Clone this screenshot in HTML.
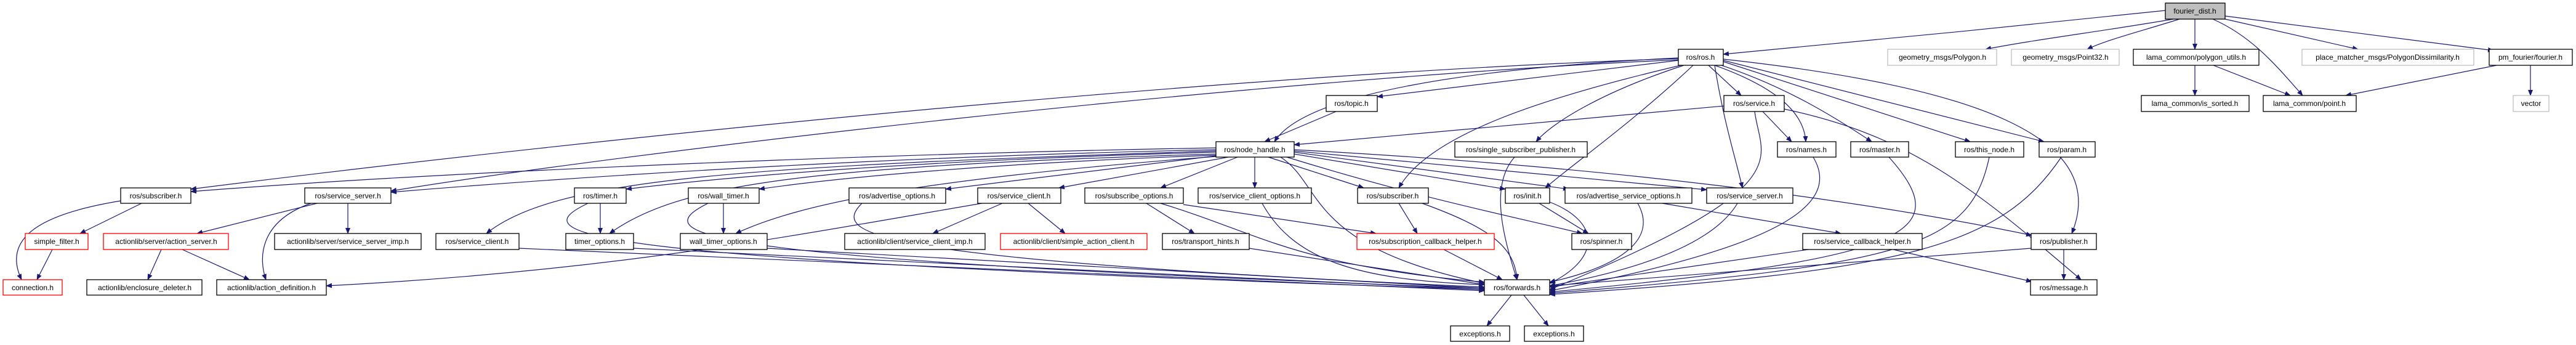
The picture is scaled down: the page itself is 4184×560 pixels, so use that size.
<!DOCTYPE html>
<html><head><meta charset="utf-8"><style>
html,body{margin:0;padding:0;background:#fff;}
svg{display:block;}
text{font-family:"Liberation Sans",Arial,sans-serif;font-size:12px;fill:#000;}
.e{fill:none;stroke:#191970;stroke-width:1.2;marker-end:url(#a);}
.n{fill:#fff;stroke:#000;stroke-width:1.3;}
.r{fill:#fff;stroke:#ff0000;stroke-width:1.3;}
.g{fill:#fff;stroke:#bfbfbf;stroke-width:1.3;}
</style></head><body>
<svg width="4184" height="560" viewBox="0 0 4184 560" xmlns="http://www.w3.org/2000/svg">
<defs><marker id="a" markerWidth="10" markerHeight="8" refX="9" refY="4" orient="auto" markerUnits="userSpaceOnUse"><path d="M0,0 L10,4 L0,8 Z" fill="#191970"/></marker></defs>
<g>
<path class="e" d="M3517,17 C3300,40 3000,70 2799,88"/>
<path class="e" d="M3530,31 C3420,50 3300,65 3225,80"/>
<path class="e" d="M3540,31 C3480,50 3420,65 3390,80"/>
<path class="e" d="M3565,31 L3565,80"/>
<path class="e" d="M3594,31 C3660,60 3700,110 3740,155"/>
<path class="e" d="M3614,31 L3830,80"/>
<path class="e" d="M3614,26 L4050,82"/>
<path class="e" d="M3565,106 L3565,155"/>
<path class="e" d="M3595,106 L3720,155"/>
<path class="e" d="M4055,106 L3810,155"/>
<path class="e" d="M4110,106 L4110,155"/>
<path class="e" d="M2726,98 L2237,157"/>
<path class="e" d="M2726,94 C2400,110 2120,150 2070,230"/>
<path class="e" d="M2170,181 L2054,230"/>
<path class="e" d="M2800,172 L2102,235"/>
<path class="e" d="M2735,106 C2600,150 2520,200 2495,230"/>
<path class="e" d="M2730,106 C2500,160 2320,220 2272,305"/>
<path class="e" d="M2750,106 C2650,200 2550,270 2510,305"/>
<path class="e" d="M2775,106 L2828,155"/>
<path class="e" d="M2785,106 C2880,140 2930,180 2933,230"/>
<path class="e" d="M2790,104 C2900,140 2980,190 3040,230"/>
<path class="e" d="M2799,100 L3200,230"/>
<path class="e" d="M2799,98 L3320,230"/>
<path class="e" d="M2799,96 C3200,140 3430,220 3365,379"/>
<path class="e" d="M2785,106 C2800,200 2820,260 2830,305"/>
<path class="e" d="M2726,95 C2000,120 1000,220 310,307"/>
<path class="e" d="M2726,97 C2000,130 1000,250 635,310"/>
<path class="e" d="M1975,240 C1400,250 700,280 310,311"/>
<path class="e" d="M1975,243 C1400,255 900,290 635,312"/>
<path class="e" d="M1975,245 C1200,270 900,290 790,379"/>
<path class="e" d="M1975,247 C1500,260 1200,285 1017,307"/>
<path class="e" d="M1975,250 C1300,270 1100,300 990,379"/>
<path class="e" d="M1975,252 C1600,265 1350,290 1233,307"/>
<path class="e" d="M1975,254 C1500,290 1300,330 1195,379"/>
<path class="e" d="M1975,253 L1536,307"/>
<path class="e" d="M1995,255 L1720,305"/>
<path class="e" d="M2010,255 L1885,305"/>
<path class="e" d="M2038,255 L2038,305"/>
<path class="e" d="M2060,255 L2215,305"/>
<path class="e" d="M2102,250 L2445,307"/>
<path class="e" d="M2102,247 L2548,307"/>
<path class="e" d="M2102,245 L2772,308"/>
<path class="e" d="M2102,243 C2600,270 3000,320 3300,382"/>
<path class="e" d="M2090,255 C2300,320 2450,350 2570,379"/>
<path class="e" d="M2080,255 C2150,300 2120,400 2411,460"/>
<path class="e" d="M230,330 L130,379"/>
<path class="e" d="M196,326 C80,345 0,380 35,454"/>
<path class="e" d="M85,405 L60,454"/>
<path class="e" d="M515,330 L320,379"/>
<path class="e" d="M505,330 C420,360 420,420 432,454"/>
<path class="e" d="M565,330 L565,379"/>
<path class="e" d="M262,405 L240,454"/>
<path class="e" d="M296,405 L405,454"/>
<path class="e" d="M1628,330 L1515,379"/>
<path class="e" d="M1670,330 L1730,379"/>
<path class="e" d="M1595,330 C1300,380 1000,440 530,464"/>
<path class="e" d="M1862,330 L1940,379"/>
<path class="e" d="M1922,332 L2235,379"/>
<path class="e" d="M1885,330 C2050,380 2100,430 2411,458"/>
<path class="e" d="M2050,330 C2100,420 2200,455 2411,462"/>
<path class="e" d="M2272,330 L2302,379"/>
<path class="e" d="M2310,330 C2420,370 2460,400 2464,454"/>
<path class="e" d="M2500,330 L2580,379"/>
<path class="e" d="M2517,328 C2600,360 2600,420 2517,460"/>
<path class="e" d="M2700,330 L2990,379"/>
<path class="e" d="M2822,330 C2780,400 2650,440 2517,464"/>
<path class="e" d="M2660,330 C2700,400 2600,440 2517,458"/>
<path class="e" d="M2460,255 C2420,300 2440,380 2464,454"/>
<path class="e" d="M2345,405 L2440,454"/>
<path class="e" d="M975,330 L975,379"/>
<path class="e" d="M1175,330 L1175,379"/>
<path class="e" d="M955,330 C850,380 900,420 2411,470"/>
<path class="e" d="M1150,330 C1050,380 1100,420 2411,468"/>
<path class="e" d="M843,403 L2411,472"/>
<path class="e" d="M1029,403 L2411,470"/>
<path class="e" d="M1246,403 L2411,468"/>
<path class="e" d="M1400,330 C1350,380 1400,420 2411,466"/>
<path class="e" d="M2029,403 L2411,462"/>
<path class="e" d="M2863,181 L2910,230"/>
<path class="e" d="M2850,181 C2860,260 2930,300 2517,470"/>
<path class="e" d="M2898,177 C3100,220 3200,300 3380,454"/>
<path class="e" d="M2945,255 C2990,330 2900,400 2517,472"/>
<path class="e" d="M3068,255 C3180,380 3100,420 2517,474"/>
<path class="e" d="M3231,255 C3200,400 3100,430 2517,476"/>
<path class="e" d="M3348,255 C3250,400 3100,440 2517,478"/>
<path class="e" d="M2937,405 L2517,466"/>
<path class="e" d="M3075,405 L3300,457"/>
<path class="e" d="M3299,403 L2517,464"/>
<path class="e" d="M3352,405 L3352,454"/>
<path class="e" d="M2455,479 L2415,529"/>
<path class="e" d="M2475,479 L2515,529"/>
</g>
<g>
<rect x="3517" y="5" width="97" height="26" fill="#bfbfbf" stroke="#000" stroke-width="1.3"/><text x="3565" y="22" text-anchor="middle">fourier_dist.h</text>
<rect class="n" x="2726" y="80" width="73" height="26"/><text x="2762" y="97" text-anchor="middle">ros/ros.h</text>
<rect class="g" x="3066" y="80" width="177" height="26"/><text x="3155" y="97" text-anchor="middle">geometry_msgs/Polygon.h</text>
<rect class="g" x="3267" y="80" width="175" height="26"/><text x="3355" y="97" text-anchor="middle">geometry_msgs/Point32.h</text>
<rect class="n" x="3465" y="80" width="204" height="26"/><text x="3567" y="97" text-anchor="middle">lama_common/polygon_utils.h</text>
<rect class="g" x="3739" y="80" width="279" height="26"/><text x="3878" y="97" text-anchor="middle">place_matcher_msgs/PolygonDissimilarity.h</text>
<rect class="n" x="4043" y="80" width="135" height="26"/><text x="4110" y="97" text-anchor="middle">pm_fourier/fourier.h</text>
<rect class="n" x="3478" y="155" width="175" height="26"/><text x="3565" y="172" text-anchor="middle">lama_common/is_sorted.h</text>
<rect class="n" x="3676" y="155" width="151" height="26"/><text x="3751" y="172" text-anchor="middle">lama_common/point.h</text>
<rect class="g" x="4082" y="155" width="58" height="26"/><text x="4111" y="172" text-anchor="middle">vector</text>
<rect class="n" x="2154" y="155" width="83" height="26"/><text x="2195" y="172" text-anchor="middle">ros/topic.h</text>
<rect class="n" x="2800" y="155" width="98" height="26"/><text x="2849" y="172" text-anchor="middle">ros/service.h</text>
<rect class="n" x="1975" y="230" width="127" height="25"/><text x="2038" y="247" text-anchor="middle">ros/node_handle.h</text>
<rect class="n" x="2363" y="230" width="215" height="25"/><text x="2470" y="247" text-anchor="middle">ros/single_subscriber_publisher.h</text>
<rect class="n" x="2887" y="230" width="95" height="25"/><text x="2934" y="247" text-anchor="middle">ros/names.h</text>
<rect class="n" x="3006" y="230" width="94" height="25"/><text x="3053" y="247" text-anchor="middle">ros/master.h</text>
<rect class="n" x="3176" y="230" width="111" height="25"/><text x="3231" y="247" text-anchor="middle">ros/this_node.h</text>
<rect class="n" x="3312" y="230" width="91" height="25"/><text x="3357" y="247" text-anchor="middle">ros/param.h</text>
<rect class="n" x="196" y="305" width="114" height="25"/><text x="253" y="322" text-anchor="middle">ros/subscriber.h</text>
<rect class="n" x="495" y="305" width="140" height="25"/><text x="565" y="322" text-anchor="middle">ros/service_server.h</text>
<rect class="n" x="933" y="305" width="84" height="25"/><text x="975" y="322" text-anchor="middle">ros/timer.h</text>
<rect class="n" x="1118" y="305" width="115" height="25"/><text x="1175" y="322" text-anchor="middle">ros/wall_timer.h</text>
<rect class="n" x="1379" y="305" width="157" height="25"/><text x="1457" y="322" text-anchor="middle">ros/advertise_options.h</text>
<rect class="n" x="1588" y="305" width="135" height="25"/><text x="1655" y="322" text-anchor="middle">ros/service_client.h</text>
<rect class="n" x="1762" y="305" width="160" height="25"/><text x="1842" y="322" text-anchor="middle">ros/subscribe_options.h</text>
<rect class="n" x="1946" y="305" width="184" height="25"/><text x="2038" y="322" text-anchor="middle">ros/service_client_options.h</text>
<rect class="n" x="2205" y="305" width="115" height="25"/><text x="2262" y="322" text-anchor="middle">ros/subscriber.h</text>
<rect class="n" x="2445" y="305" width="72" height="25"/><text x="2481" y="322" text-anchor="middle">ros/init.h</text>
<rect class="n" x="2542" y="305" width="206" height="25"/><text x="2645" y="322" text-anchor="middle">ros/advertise_service_options.h</text>
<rect class="n" x="2772" y="305" width="140" height="25"/><text x="2842" y="322" text-anchor="middle">ros/service_server.h</text>
<rect class="r" x="41" y="379" width="102" height="26"/><text x="92" y="396" text-anchor="middle">simple_filter.h</text>
<rect class="r" x="168" y="379" width="203" height="26"/><text x="270" y="396" text-anchor="middle">actionlib/server/action_server.h</text>
<rect class="n" x="446" y="379" width="238" height="26"/><text x="565" y="396" text-anchor="middle">actionlib/server/service_server_imp.h</text>
<rect class="n" x="708" y="379" width="135" height="26"/><text x="775" y="396" text-anchor="middle">ros/service_client.h</text>
<rect class="n" x="919" y="379" width="110" height="26"/><text x="974" y="396" text-anchor="middle">timer_options.h</text>
<rect class="n" x="1105" y="379" width="141" height="26"/><text x="1175" y="396" text-anchor="middle">wall_timer_options.h</text>
<rect class="n" x="1372" y="379" width="228" height="26"/><text x="1486" y="396" text-anchor="middle">actionlib/client/service_client_imp.h</text>
<rect class="r" x="1625" y="379" width="238" height="26"/><text x="1744" y="396" text-anchor="middle">actionlib/client/simple_action_client.h</text>
<rect class="n" x="1888" y="379" width="141" height="26"/><text x="1958" y="396" text-anchor="middle">ros/transport_hints.h</text>
<rect class="r" x="2204" y="379" width="223" height="26"/><text x="2315" y="396" text-anchor="middle">ros/subscription_callback_helper.h</text>
<rect class="n" x="2553" y="379" width="97" height="26"/><text x="2601" y="396" text-anchor="middle">ros/spinner.h</text>
<rect class="n" x="2928" y="379" width="194" height="26"/><text x="3025" y="396" text-anchor="middle">ros/service_callback_helper.h</text>
<rect class="n" x="3299" y="379" width="106" height="26"/><text x="3352" y="396" text-anchor="middle">ros/publisher.h</text>
<rect class="r" x="5" y="454" width="96" height="25"/><text x="53" y="471" text-anchor="middle">connection.h</text>
<rect class="n" x="141" y="454" width="187" height="25"/><text x="235" y="471" text-anchor="middle">actionlib/enclosure_deleter.h</text>
<rect class="n" x="352" y="454" width="178" height="25"/><text x="441" y="471" text-anchor="middle">actionlib/action_definition.h</text>
<rect class="n" x="2411" y="454" width="106" height="25"/><text x="2464" y="471" text-anchor="middle">ros/forwards.h</text>
<rect class="n" x="3298" y="454" width="108" height="25"/><text x="3352" y="471" text-anchor="middle">ros/message.h</text>
<rect class="n" x="2356" y="529" width="96" height="25"/><text x="2404" y="546" text-anchor="middle">exceptions.h</text>
<rect class="n" x="2476" y="529" width="96" height="25"/><text x="2524" y="546" text-anchor="middle">exceptions.h</text>
</g>
</svg>
</body></html>
